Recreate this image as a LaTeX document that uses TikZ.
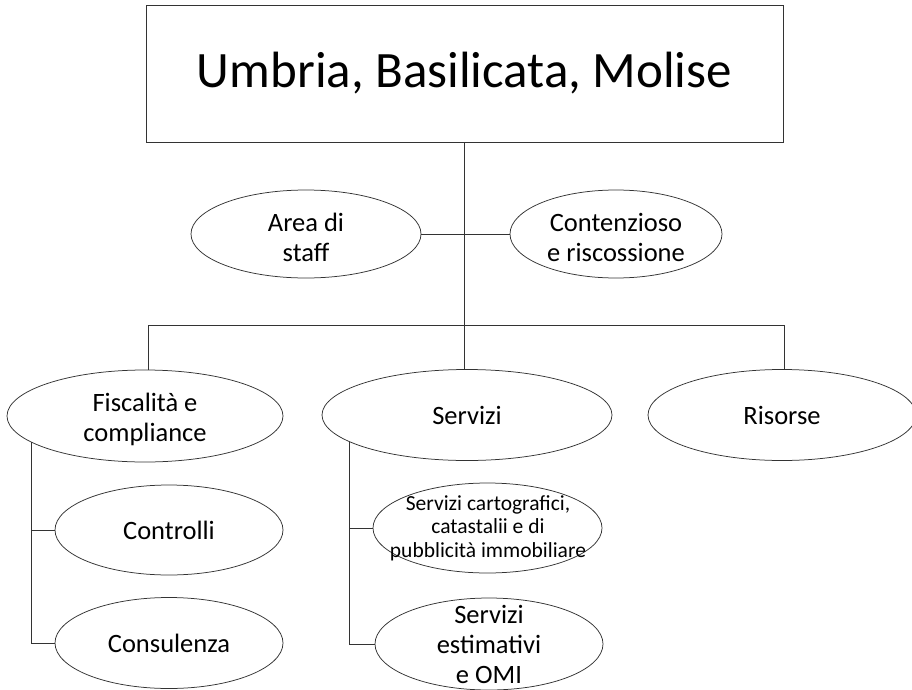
\documentclass[tikz,border=0pt]{standalone}
\usepackage{fontspec}
\setmainfont{Carlito}
\usetikzlibrary{shapes.geometric}
\begin{document}
\begin{tikzpicture}[x=1pt,y=-1pt,
  line/.style={draw=black!80, line width=0.75pt},
  oval/.style={ellipse, draw=black!80, line width=0.75pt, inner sep=0pt},
  lbl/.style={align=center, inner sep=0pt, font=\fontsize{26.5}{30}\selectfont},
  small/.style={align=center, inner sep=0pt, font=\fontsize{21.5}{23.5}\selectfont}]
\useasboundingbox[fill=white] (0,0) rectangle (912,690);

% top box
\node[draw=black!80, line width=0.75pt, minimum width=637pt, minimum height=137pt, inner sep=0pt,
      font=\fontsize{51}{60}\selectfont] (top) at (464.5,73.5) {Umbria, Basilicata, Molise};

% staff level
\node[oval, minimum width=230pt, minimum height=88pt] (staff) at (306,234) {};
\node[lbl] (stafft) at (306,237) {Area di\\staff};
\node[oval, minimum width=212pt, minimum height=88pt] (cont) at (616,234) {};
\node[lbl] (contt) at (616,237) {Contenzioso\\e riscossione};

% second level
\node[oval, minimum width=276pt, minimum height=92pt] (fisc) at (145,416) {};
\node[lbl] (fisct) at (145,419) {Fiscalità e\\compliance};
\node[oval, minimum width=290pt, minimum height=91pt] (serv) at (467,415) {};
\node[lbl] (servt) at (serv.center) {Servizi};
\node[oval, minimum width=268pt, minimum height=91pt] (ris) at (782,415) {};
\node[lbl] (rist) at (ris.center) {Risorse};

% third level
\node[oval, minimum width=228pt, minimum height=90pt] (contr) at (169,530) {};
\node[lbl] (contrt) at (contr.center) {Controlli};
\node[oval, minimum width=228pt, minimum height=91pt] (cons) at (169,643) {};
\node[lbl] (const) at (cons.center) {Consulenza};
\node[oval, minimum width=229pt, minimum height=90pt] (carto) at (487.5,528) {};
\node[small] (cartot) at (488,528) {Servizi cartografici,\\catastalii e di\\pubblicità immobiliare};
\node[oval, minimum width=228pt, minimum height=92pt] (stim) at (489,644) {};
\node[lbl] (stimt) at (489,644) {Servizi\\estimativi\\e OMI};

% connectors
\coordinate (jl) at (148,325);
\coordinate (jm) at (top.south |- jl);
\coordinate (jr) at (784,325);
\draw[line] (top.south) -- (jm);
\draw[line] (staff.east) -- (cont.west);
\draw[line] (jl) -- (jr);
\draw[line] (jl) -- (jl |- fisc.north);
\draw[line] (jm) -- (jm |- serv.north);
\draw[line] (jr) -- (jr |- ris.north);
\draw[line] (fisc.193.5) |- (contr.west);
\draw[line] (fisc.193.5) |- (cons.west);
\draw[line] (serv.193.5) |- (carto.west);
\draw[line] (serv.193.5) |- (stim.west);
\end{tikzpicture}
\end{document}
